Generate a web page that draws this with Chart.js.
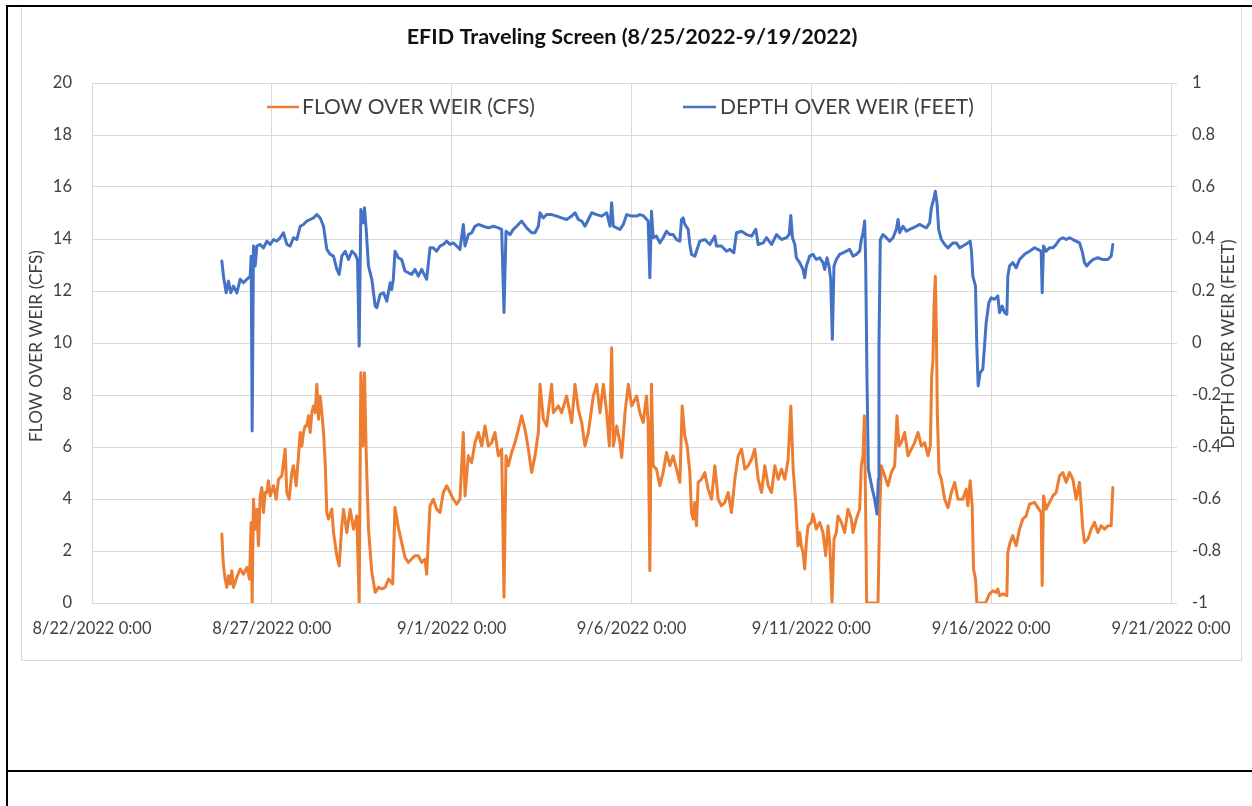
<!DOCTYPE html>
<html>
<head>
<meta charset="utf-8">
<title>EFID Traveling Screen</title>
<script src="https://cdn.jsdelivr.net/npm/chart.js@4.4.1/dist/chart.umd.min.js"></script>
<style>
  html, body { margin: 0; padding: 0; background: #fff; }
  #wrap { position: relative; width: 1252px; height: 806px; overflow: hidden; }
  .rule { position: absolute; background: #000; }
  .frame { position: absolute; border: 1px solid #d9d9d9; }
  #chart { position: absolute; left: 0; top: 0; }
</style>
</head>
<body>
<div id="wrap">
  <div class="frame" style="left:21px; top:5px; width:1219px; height:654px;"></div>
  <div class="rule" style="left:6px; top:5px; width:2px; height:801px;"></div>
  <div class="rule" style="left:6px; top:5px; width:1246px; height:2px;"></div>
  <div class="rule" style="left:6px; top:770px; width:1246px; height:2px;"></div>
  <canvas id="chart" width="1252" height="806"></canvas>
</div>
<script>
// time is in days since 8/22/2022 0:00
const flowDays = [
  3.610, 3.638, 3.656, 3.702, 3.749, 3.795, 3.841, 3.888, 3.934, 4.027, 4.120, 4.212, 4.305, 4.379, 4.425, 4.453,
  4.490, 4.537, 4.583, 4.629, 4.676, 4.722, 4.768, 4.815, 4.861, 4.907, 4.954, 5.046, 5.120, 5.185, 5.278, 5.371,
  5.417, 5.482, 5.556, 5.602, 5.677, 5.741, 5.788, 5.834, 5.880, 5.927, 5.973, 6.019, 6.066, 6.112, 6.158, 6.205,
  6.251, 6.297, 6.344, 6.390, 6.437, 6.483, 6.529, 6.576, 6.668, 6.715, 6.807, 6.872, 6.946, 6.993, 7.085, 7.178,
  7.271, 7.363, 7.428, 7.475, 7.530, 7.576, 7.623, 7.688, 7.780, 7.873, 7.966, 8.058, 8.151, 8.244, 8.360, 8.424,
  8.517, 8.610, 8.702, 8.795, 8.888, 8.981, 9.073, 9.166, 9.259, 9.305, 9.398, 9.490, 9.583, 9.676, 9.768, 9.861,
  9.954, 10.046, 10.139, 10.232, 10.324, 10.371, 10.463, 10.556, 10.649, 10.741, 10.834, 10.927, 11.019, 11.112, 11.205, 11.298,
  11.390, 11.455, 11.511, 11.576, 11.668, 11.761, 11.854, 11.946, 12.039, 12.132, 12.224, 12.317, 12.410, 12.456, 12.549, 12.641,
  12.780, 12.827, 12.966, 13.058, 13.197, 13.337, 13.429, 13.522, 13.615, 13.707, 13.800, 13.939, 14.032, 14.124, 14.217, 14.310,
  14.384, 14.449, 14.495, 14.588, 14.680, 14.727, 14.819, 14.912, 15.005, 15.144, 15.232, 15.324, 15.417, 15.463, 15.510, 15.556,
  15.602, 15.695, 15.788, 15.880, 15.973, 16.066, 16.158, 16.251, 16.344, 16.409, 16.483, 16.548, 16.622, 16.668, 16.715, 16.761,
  16.807, 16.854, 16.946, 17.039, 17.132, 17.224, 17.317, 17.410, 17.502, 17.595, 17.688, 17.780, 17.873, 17.966, 18.058, 18.151,
  18.244, 18.337, 18.429, 18.522, 18.615, 18.707, 18.800, 18.893, 18.985, 19.078, 19.171, 19.263, 19.356, 19.430, 19.495, 19.560,
  19.629, 19.676, 19.722, 19.768, 19.815, 19.861, 19.907, 20.000, 20.046, 20.139, 20.232, 20.324, 20.399, 20.463, 20.510, 20.575,
  20.630, 20.695, 20.741, 20.834, 20.927, 21.019, 21.112, 21.158, 21.251, 21.344, 21.390, 21.437, 21.474, 21.511, 21.538, 21.854,
  21.900, 21.946, 22.039, 22.132, 22.224, 22.317, 22.382, 22.437, 22.502, 22.595, 22.688, 22.780, 22.873, 22.966, 23.058, 23.151,
  23.244, 23.309, 23.346, 23.383, 23.411, 23.448, 23.476, 23.503, 23.550, 23.615, 23.707, 23.800, 23.893, 23.985, 24.078, 24.212,
  24.305, 24.351, 24.416, 24.472, 24.509, 24.564, 24.601, 24.842, 24.954, 25.046, 25.139, 25.185, 25.232, 25.324, 25.436, 25.463,
  25.528, 25.602, 25.695, 25.788, 25.880, 25.973, 26.066, 26.205, 26.298, 26.390, 26.418, 26.455, 26.529, 26.622, 26.715, 26.807,
  26.900, 26.993, 27.085, 27.178, 27.271, 27.363, 27.456, 27.549, 27.595, 27.688, 27.780, 27.873, 27.966, 28.058, 28.151, 28.244,
  28.337, 28.383
];
const flowCfs = [
  2.65, 1.82, 1.43, 0.92, 0.60, 1.05, 0.73, 1.24, 0.60, 0.99, 1.31, 1.11, 1.37, 0.92, 3.10, 0,
  3.99, 2.84, 3.61, 2.20, 4.12, 4.44, 3.48, 4.25, 4.25, 4.70, 4.12, 4.51, 3.99, 4.76, 4.89, 5.92,
  4.25, 3.99, 5.02, 5.28, 4.51, 5.66, 6.56, 6.04, 6.56, 6.81, 6.81, 7.20, 6.56, 7.32, 7.58, 7.32,
  8.41, 7.07, 7.96, 7.32, 6.56, 5.40, 3.48, 3.23, 3.61, 2.71, 1.82, 1.43, 2.97, 3.61, 2.71, 3.61,
  2.84, 3.35, 0, 8.86, 6.04, 8.86, 5.79, 2.84, 1.18, 0.41, 0.60, 0.54, 0.60, 0.92, 0.73, 3.67,
  2.91, 2.33, 1.75, 1.56, 1.69, 1.82, 1.82, 1.56, 1.69, 1.11, 3.74, 3.99, 3.61, 3.48, 4.25, 4.51,
  4.25, 3.99, 3.80, 3.99, 6.56, 4.12, 5.66, 5.40, 6.17, 6.56, 6.04, 6.81, 6.04, 6.17, 6.56, 5.66,
  5.92, 0.22, 5.66, 5.28, 5.79, 6.17, 6.68, 7.20, 6.68, 5.92, 5.02, 5.66, 6.56, 8.41, 7.07, 6.81,
  8.41, 7.32, 7.58, 7.32, 7.96, 6.94, 8.41, 7.45, 6.94, 6.04, 6.56, 7.96, 8.41, 7.32, 8.41, 7.32,
  6.04, 9.82, 6.04, 6.81, 6.17, 5.60, 7.32, 8.41, 7.58, 7.96, 7.32, 6.94, 7.96, 6.94, 1.24, 8.41,
  5.28, 5.15, 4.51, 5.02, 5.79, 5.28, 5.66, 5.15, 4.64, 7.58, 6.43, 6.04, 5.02, 3.48, 3.23, 3.87,
  2.97, 4.64, 4.76, 5.02, 4.38, 3.99, 5.28, 3.99, 3.74, 3.87, 4.25, 3.48, 4.76, 5.66, 5.92, 5.15,
  5.28, 5.53, 5.92, 4.76, 4.25, 5.28, 4.51, 4.25, 5.28, 4.76, 5.15, 4.76, 5.53, 7.58, 5.15, 3.99,
  2.20, 2.71, 2.20, 1.95, 1.31, 2.33, 2.97, 3.10, 3.42, 2.84, 3.10, 2.71, 1.82, 2.97, 2.33, 0,
  2.46, 2.71, 3.35, 3.10, 2.71, 3.61, 3.23, 2.71, 3.23, 3.61, 5.28, 5.66, 7.20, 3.48, 0, 0,
  3.48, 5.28, 4.89, 4.51, 5.02, 5.28, 7.20, 6.04, 6.17, 6.56, 5.66, 5.92, 6.17, 6.56, 6.04, 6.17,
  5.66, 6.04, 8.73, 9.37, 11.42, 12.57, 10.52, 7.32, 5.02, 4.76, 3.99, 3.67, 4.25, 4.64, 3.99, 3.99,
  4.38, 3.74, 4.70, 3.74, 1.31, 0.92, 0, 0, 0.35, 0.47, 0.41, 0.54, 0.28, 0.35, 0.28, 1.95,
  2.33, 2.59, 2.20, 2.84, 3.23, 3.35, 3.80, 3.87, 3.67, 3.48, 0.67, 4.12, 3.61, 3.87, 4.12, 4.25,
  4.89, 5.02, 4.64, 5.02, 4.76, 3.99, 4.64, 2.84, 2.33, 2.46, 2.84, 3.10, 2.71, 2.97, 2.84, 2.97,
  2.97, 4.44
];

const depthDays = [
  3.610, 3.656, 3.730, 3.795, 3.860, 3.934, 4.027, 4.120, 4.212, 4.305, 4.398, 4.425, 4.453, 4.490, 4.537, 4.583,
  4.676, 4.768, 4.861, 4.954, 5.046, 5.139, 5.232, 5.324, 5.417, 5.510, 5.602, 5.695, 5.788, 5.880, 5.973, 6.066,
  6.158, 6.251, 6.344, 6.437, 6.529, 6.622, 6.715, 6.807, 6.872, 6.946, 7.039, 7.132, 7.224, 7.317, 7.382, 7.428,
  7.475, 7.530, 7.576, 7.623, 7.688, 7.780, 7.873, 7.919, 8.012, 8.105, 8.197, 8.290, 8.332, 8.378, 8.424, 8.517,
  8.610, 8.702, 8.795, 8.888, 8.981, 9.073, 9.166, 9.259, 9.305, 9.398, 9.490, 9.583, 9.676, 9.768, 9.861, 9.954,
  10.046, 10.139, 10.232, 10.324, 10.371, 10.463, 10.556, 10.649, 10.741, 10.880, 11.019, 11.158, 11.298, 11.390, 11.455, 11.511,
  11.622, 11.715, 11.807, 11.946, 12.085, 12.224, 12.317, 12.410, 12.456, 12.549, 12.641, 12.780, 12.919, 13.058, 13.197, 13.337,
  13.429, 13.522, 13.615, 13.707, 13.800, 13.893, 14.032, 14.171, 14.310, 14.402, 14.449, 14.495, 14.588, 14.680, 14.773, 14.866,
  15.005, 15.144, 15.232, 15.324, 15.463, 15.510, 15.556, 15.602, 15.695, 15.788, 15.880, 15.973, 16.066, 16.158, 16.251, 16.344,
  16.390, 16.437, 16.483, 16.576, 16.622, 16.668, 16.761, 16.807, 16.900, 17.039, 17.178, 17.317, 17.363, 17.502, 17.641, 17.734,
  17.845, 17.919, 18.058, 18.197, 18.337, 18.457, 18.522, 18.661, 18.754, 18.893, 19.032, 19.171, 19.310, 19.384, 19.430, 19.476,
  19.541, 19.583, 19.676, 19.768, 19.815, 19.861, 19.954, 20.046, 20.139, 20.232, 20.324, 20.371, 20.436, 20.491, 20.538, 20.584,
  20.630, 20.695, 20.788, 20.880, 20.973, 21.066, 21.158, 21.251, 21.344, 21.390, 21.437, 21.483, 21.511, 21.548, 21.585, 21.640,
  21.696, 21.761, 21.826, 21.863, 21.881, 21.918, 21.993, 22.085, 22.178, 22.271, 22.363, 22.410, 22.456, 22.549, 22.641, 22.734,
  22.827, 22.919, 23.012, 23.105, 23.197, 23.290, 23.337, 23.401, 23.448, 23.494, 23.540, 23.615, 23.707, 23.800, 23.939, 24.032,
  24.124, 24.212, 24.351, 24.416, 24.453, 24.490, 24.564, 24.601, 24.639, 24.694, 24.768, 24.815, 24.861, 24.935, 25.000, 25.093,
  25.185, 25.232, 25.306, 25.371, 25.436, 25.463, 25.510, 25.602, 25.695, 25.788, 25.927, 26.066, 26.205, 26.298, 26.390, 26.418,
  26.455, 26.529, 26.622, 26.715, 26.807, 26.900, 26.993, 27.085, 27.178, 27.271, 27.363, 27.456, 27.530, 27.595, 27.660, 27.734,
  27.827, 27.966, 28.105, 28.244, 28.337, 28.383
];
const depthFeet = [
  0.315, 0.257, 0.193, 0.238, 0.193, 0.219, 0.193, 0.245, 0.232, 0.245, 0.257, 0.334, -0.338, 0.373, 0.296, 0.373,
  0.379, 0.366, 0.392, 0.379, 0.398, 0.392, 0.405, 0.424, 0.379, 0.373, 0.405, 0.398, 0.449, 0.456, 0.469, 0.475,
  0.481, 0.494, 0.481, 0.449, 0.360, 0.341, 0.334, 0.283, 0.264, 0.334, 0.353, 0.321, 0.353, 0.341, 0.321, -0.012,
  0.513, 0.462, 0.520, 0.437, 0.296, 0.245, 0.142, 0.136, 0.187, 0.193, 0.161, 0.232, 0.206, 0.245, 0.353, 0.328,
  0.321, 0.277, 0.270, 0.264, 0.283, 0.257, 0.283, 0.257, 0.245, 0.366, 0.366, 0.353, 0.373, 0.379, 0.392, 0.379,
  0.385, 0.373, 0.360, 0.456, 0.373, 0.417, 0.424, 0.449, 0.456, 0.449, 0.443, 0.449, 0.443, 0.437, 0.117, 0.430,
  0.417, 0.437, 0.449, 0.469, 0.443, 0.424, 0.424, 0.449, 0.501, 0.481, 0.494, 0.494, 0.488, 0.481, 0.475, 0.488,
  0.501, 0.475, 0.469, 0.449, 0.475, 0.501, 0.494, 0.488, 0.501, 0.449, 0.539, 0.449, 0.443, 0.437, 0.456, 0.494,
  0.488, 0.488, 0.494, 0.490, 0.469, 0.251, 0.507, 0.405, 0.411, 0.385, 0.405, 0.430, 0.417, 0.417, 0.398, 0.392,
  0.475, 0.481, 0.456, 0.437, 0.379, 0.341, 0.334, 0.353, 0.392, 0.398, 0.379, 0.411, 0.373, 0.373, 0.353, 0.360,
  0.347, 0.424, 0.430, 0.417, 0.411, 0.437, 0.379, 0.385, 0.405, 0.379, 0.417, 0.398, 0.405, 0.417, 0.490, 0.405,
  0.379, 0.328, 0.309, 0.283, 0.251, 0.296, 0.334, 0.341, 0.321, 0.328, 0.309, 0.283, 0.328, 0.296, 0.245, 0.014,
  0.296, 0.321, 0.341, 0.347, 0.353, 0.360, 0.334, 0.341, 0.353, 0.398, 0.424, 0.469, 0.309, -0.140, -0.485, -0.524,
  -0.562, -0.601, -0.658, -0.524, -0.012, 0.398, 0.417, 0.405, 0.392, 0.405, 0.437, 0.475, 0.424, 0.449, 0.430, 0.437,
  0.443, 0.449, 0.456, 0.449, 0.443, 0.462, 0.520, 0.552, 0.584, 0.539, 0.437, 0.398, 0.379, 0.366, 0.385, 0.385,
  0.366, 0.373, 0.385, 0.392, 0.353, 0.257, 0.219, -0.012, -0.165, -0.114, -0.101, -0.012, 0.078, 0.155, 0.174, 0.168,
  0.181, 0.117, 0.142, 0.117, 0.110, 0.257, 0.296, 0.309, 0.289, 0.321, 0.341, 0.353, 0.366, 0.360, 0.353, 0.193,
  0.373, 0.353, 0.366, 0.366, 0.379, 0.398, 0.405, 0.398, 0.405, 0.398, 0.392, 0.385, 0.353, 0.309, 0.296, 0.309,
  0.321, 0.328, 0.321, 0.321, 0.334, 0.379
];

const xTicks = [0, 5, 10, 15, 20, 25, 30];
const flowTicks = [0, 2, 4, 6, 8, 10, 12, 14, 16, 18, 20];
const depthTicks = [-1, -0.8, -0.6, -0.4, -0.2, 0, 0.2, 0.4, 0.6, 0.8, 1];

const titleText = 'EFID Traveling Screen (8/25/2022-9/19/2022)';
const flowLabel = 'FLOW OVER WEIR (CFS)';
const depthLabel = 'DEPTH OVER WEIR (FEET)';

const FAMILY = 'Lato, "Open Sans", sans-serif';
const ORANGE = '#ed7d31';
const BLUE = '#4472c4';
const GRID = '#d9d9d9';
const TEXT = '#404040';

// size a font so that a string takes the width it has in the picture
const probe = document.createElement('canvas').getContext('2d');
function fitSize(text, width, weight) {
    probe.font = `${weight} 100px ${FAMILY}`;
    return 100 * width / probe.measureText(text).width;
}
const tickSize = fitSize('8/22/2022 0:00', 119, 'normal');
const titleSize = fitSize(titleText, 451, 'bold');
const legendSize = fitSize(flowLabel, 233, 'normal');
const axisTitleSize = fitSize(flowLabel, 192, 'normal');

function dayLabel(v) {
    const d = new Date(2022, 7, 22 + Math.round(v));
    return `${d.getMonth() + 1}/${d.getDate()}/${d.getFullYear()} 0:00`;
}

const decor = {
    id: 'decor',
    afterDraw(chart) {
        const c = chart.ctx;
        c.save();
        // title
        c.fillStyle = '#111';
        c.font = `bold ${titleSize}px ${FAMILY}`;
        c.textAlign = 'center';
        c.textBaseline = 'middle';
        c.fillText(titleText, 632, 37);

        // legend inside the plot area
        c.font = `${legendSize}px ${FAMILY}`;
        c.fillStyle = TEXT;
        c.textAlign = 'left';
        c.lineWidth = 2.5;
        c.strokeStyle = ORANGE;
        c.beginPath(); c.moveTo(267, 107); c.lineTo(299, 107); c.stroke();
        c.fillText(flowLabel, 302, 107);
        c.strokeStyle = BLUE;
        c.beginPath(); c.moveTo(683, 107); c.lineTo(716, 107); c.stroke();
        c.fillText(depthLabel, 720, 107);

        // axis titles, both reading bottom to top
        c.font = `${axisTitleSize}px ${FAMILY}`;
        c.textAlign = 'center';
        c.save();
        c.translate(36, 346);
        c.rotate(-Math.PI / 2);
        c.fillText(flowLabel, 0, 0);
        c.restore();
        c.save();
        c.translate(1228, 344);
        c.rotate(-Math.PI / 2);
        c.fillText(depthLabel, 0, 0);
        c.restore();
        c.restore();
    }
};

const toPoints = (xs, ys) => xs.map((x, i) => ({ x: x, y: ys[i] }));

new Chart(document.getElementById('chart'), {
    type: 'line',
    data: {
        datasets: [{
            label: flowLabel,
            data: toPoints(flowDays, flowCfs),
            borderColor: ORANGE,
            borderWidth: 3,
            yAxisID: 'yFlow',
            order: 2,
        }, {
            label: depthLabel,
            data: toPoints(depthDays, depthFeet),
            borderColor: BLUE,
            borderWidth: 3,
            yAxisID: 'yDepth',
            order: 1,
        }]
    },
    plugins: [decor],
    options: {
        responsive: false,
        animation: false,
        devicePixelRatio: 1,
        layout: { padding: { top: 83, left: 0, right: 0, bottom: 0 } },
        elements: {
            point: { radius: 0 },
            line: { tension: 0, borderJoinStyle: 'round', borderCapStyle: 'round' }
        },
        plugins: {
            legend: { display: false },
            tooltip: { enabled: false },
            title: { display: false }
        },
        scales: {
            x: {
                type: 'linear',
                min: 0,
                max: 30,
                afterFit: (s) => { s.height = 203; },
                afterBuildTicks: (s) => { s.ticks = xTicks.map(v => ({ value: v })); },
                grid: { color: GRID, drawTicks: false },
                border: { color: GRID },
                ticks: {
                    autoSkip: false,
                    maxRotation: 0,
                    padding: 16,
                    color: TEXT,
                    font: { family: FAMILY, size: tickSize },
                    callback: (v) => dayLabel(v)
                }
            },
            yFlow: {
                position: 'left',
                min: 0,
                max: 20,
                afterFit: (s) => { s.width = 92; },
                afterBuildTicks: (s) => { s.ticks = flowTicks.map(v => ({ value: v })); },
                grid: { color: GRID, drawTicks: false },
                border: { color: GRID },
                ticks: {
                    padding: 20,
                    color: TEXT,
                    font: { family: FAMILY, size: tickSize },
                    callback: (v) => String(v)
                }
            },
            yDepth: {
                position: 'right',
                min: -1,
                max: 1,
                afterFit: (s) => { s.width = 81; },
                afterBuildTicks: (s) => { s.ticks = depthTicks.map(v => ({ value: v })); },
                grid: { color: GRID, drawOnChartArea: false, drawTicks: true, tickLength: 6 },
                border: { color: GRID },
                ticks: {
                    padding: 15,
                    color: TEXT,
                    font: { family: FAMILY, size: tickSize },
                    callback: (v) => String(Math.round(v * 10) / 10)
                }
            }
        }
    }
});
</script>
</body>
</html>
